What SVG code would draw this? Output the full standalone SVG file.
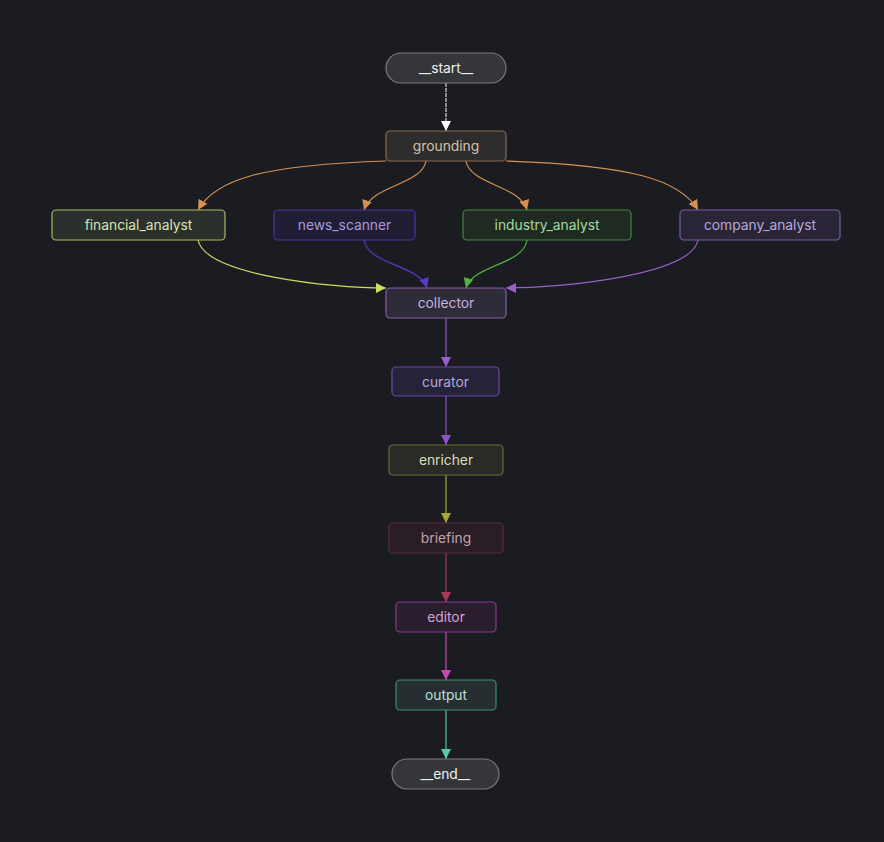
<svg xmlns="http://www.w3.org/2000/svg" width="884" height="842" viewBox="0 0 884 842">
<style>
text{font-family:Inter,"Noto Sans","Liberation Sans",sans-serif;font-size:13.8px;text-anchor:middle;dominant-baseline:central}
.n{stroke-width:1.2}
.e{fill:none;stroke-width:1.2}
</style>
<defs>
<marker id="aw" viewBox="0 0 10 10" refX="10" refY="5" markerWidth="10" markerHeight="10" markerUnits="userSpaceOnUse" orient="auto"><path d="M0,0L10,5L0,10z" fill="#ffffff"/></marker>
<marker id="ao" viewBox="0 0 10 10" refX="10" refY="5" markerWidth="10" markerHeight="10" markerUnits="userSpaceOnUse" orient="auto"><path d="M0,0L10,5L0,10z" fill="#d8904f"/></marker>
<marker id="ay" viewBox="0 0 10 10" refX="10" refY="5" markerWidth="10" markerHeight="10" markerUnits="userSpaceOnUse" orient="auto"><path d="M0,0L10,5L0,10z" fill="#c8e05a"/></marker>
<marker id="ab" viewBox="0 0 10 10" refX="10" refY="5" markerWidth="10" markerHeight="10" markerUnits="userSpaceOnUse" orient="auto"><path d="M0,0L10,5L0,10z" fill="#5a3ac8"/></marker>
<marker id="ag" viewBox="0 0 10 10" refX="10" refY="5" markerWidth="10" markerHeight="10" markerUnits="userSpaceOnUse" orient="auto"><path d="M0,0L10,5L0,10z" fill="#52b040"/></marker>
<marker id="ap" viewBox="0 0 10 10" refX="10" refY="5" markerWidth="10" markerHeight="10" markerUnits="userSpaceOnUse" orient="auto"><path d="M0,0L10,5L0,10z" fill="#9a60c8"/></marker>
<marker id="ap2" viewBox="0 0 10 10" refX="10" refY="5" markerWidth="10" markerHeight="10" markerUnits="userSpaceOnUse" orient="auto"><path d="M0,0L10,5L0,10z" fill="#8a52c8"/></marker>
<marker id="ayl" viewBox="0 0 10 10" refX="10" refY="5" markerWidth="10" markerHeight="10" markerUnits="userSpaceOnUse" orient="auto"><path d="M0,0L10,5L0,10z" fill="#a8a838"/></marker>
<marker id="ar" viewBox="0 0 10 10" refX="10" refY="5" markerWidth="10" markerHeight="10" markerUnits="userSpaceOnUse" orient="auto"><path d="M0,0L10,5L0,10z" fill="#a83a58"/></marker>
<marker id="am" viewBox="0 0 10 10" refX="10" refY="5" markerWidth="10" markerHeight="10" markerUnits="userSpaceOnUse" orient="auto"><path d="M0,0L10,5L0,10z" fill="#c848b8"/></marker>
<marker id="at" viewBox="0 0 10 10" refX="10" refY="5" markerWidth="10" markerHeight="10" markerUnits="userSpaceOnUse" orient="auto"><path d="M0,0L10,5L0,10z" fill="#58c8a8"/></marker>
</defs>
<rect width="884" height="842" fill="#1a1c22"/>
<g id="edges">
<path class="e" stroke="#d8d8d8" stroke-dasharray="4,1" d="M446,83V131" marker-end="url(#aw)"/>
<path class="e" stroke="#d8904f" d="M386,161C260,165 215,180 198,210" marker-end="url(#ao)"/>
<path class="e" stroke="#d8904f" d="M426,161C422,185 372,185 364,210" marker-end="url(#ao)"/>
<path class="e" stroke="#d8904f" d="M466,161C470,185 520,185 527,210" marker-end="url(#ao)"/>
<path class="e" stroke="#d8904f" d="M506,161C632,165 680,180 698,210" marker-end="url(#ao)"/>
<path class="e" stroke="#c8e05a" d="M198,240C205,275 330,288 386,288" marker-end="url(#ay)"/>
<path class="e" stroke="#5a3ac8" d="M364,240C368,265 420,265 427,288" marker-end="url(#ab)"/>
<path class="e" stroke="#52b040" d="M527,240C524,265 472,265 466,288" marker-end="url(#ag)"/>
<path class="e" stroke="#9a60c8" d="M698,240C692,275 562,288 506,288" marker-end="url(#ap)"/>
<path class="e" stroke="#9a56c8" d="M446,318V367" marker-end="url(#ap)"/>
<path class="e" stroke="#8a52c8" d="M446,396V445" marker-end="url(#ap2)"/>
<path class="e" stroke="#a8a838" d="M446,475V523" marker-end="url(#ayl)"/>
<path class="e" stroke="#a83a58" d="M446,553V602" marker-end="url(#ar)"/>
<path class="e" stroke="#c848b8" d="M446,632V680" marker-end="url(#am)"/>
<path class="e" stroke="#58c8a8" d="M446,710V759" marker-end="url(#at)"/>
</g>
<g id="start"><rect class="n" x="386" y="53" width="120" height="30" rx="15" fill="#35363b" stroke="#7a7b80"/><text x="446" y="68" fill="#f0f0f0">__start__</text></g>
<g id="grounding"><rect class="n" x="386" y="131" width="120" height="30" rx="4" fill="#2e2d2d" stroke="#8a6a4c"/><text x="446" y="146" fill="#d8c0a8">grounding</text></g>
<g id="financial_analyst"><rect class="n" x="52" y="210" width="173" height="30" rx="4" fill="#2b302c" stroke="#a8b860"/><text x="138.5" y="225" fill="#d8e4b0">financial_analyst</text></g>
<g id="news_scanner"><rect class="n" x="274" y="210" width="141" height="30" rx="4" fill="#201e34" stroke="#4a36a0"/><text x="344.5" y="225" fill="#a89ad8">news_scanner</text></g>
<g id="industry_analyst"><rect class="n" x="463" y="210" width="168" height="30" rx="4" fill="#1e2a22" stroke="#3c8a3a"/><text x="547" y="225" fill="#a8d8a0">industry_analyst</text></g>
<g id="company_analyst"><rect class="n" x="680" y="210" width="160" height="30" rx="4" fill="#2a2536" stroke="#7a5aa8"/><text x="760" y="225" fill="#b8a8d8">company_analyst</text></g>
<g id="collector"><rect class="n" x="386" y="288" width="120" height="30" rx="4" fill="#2e2c38" stroke="#8a5aaa"/><text x="446" y="303" fill="#c8b0e0">collector</text></g>
<g id="curator"><rect class="n" x="392" y="367" width="107" height="29" rx="4" fill="#25223a" stroke="#6c46a8"/><text x="445.5" y="381.5" fill="#b8a8d8">curator</text></g>
<g id="enricher"><rect class="n" x="389" y="445" width="114" height="30" rx="4" fill="#292b26" stroke="#6c6c34"/><text x="446" y="460" fill="#dcdcb8">enricher</text></g>
<g id="briefing"><rect class="n" x="389" y="523" width="114" height="30" rx="4" fill="#291e26" stroke="#5c2a3a"/><text x="446" y="538" fill="#c8a0b0">briefing</text></g>
<g id="editor"><rect class="n" x="396" y="602" width="100" height="30" rx="4" fill="#2a1e2e" stroke="#8a3a88"/><text x="446" y="617" fill="#d8a0d8">editor</text></g>
<g id="output"><rect class="n" x="396" y="680" width="100" height="30" rx="4" fill="#262e31" stroke="#3e8a7a"/><text x="446" y="695" fill="#b8e0d8">output</text></g>
<g id="end"><rect class="n" x="392" y="759" width="107" height="30" rx="15" fill="#35363b" stroke="#7a7b80"/><text x="445.5" y="774" fill="#f0f0f0">__end__</text></g>
</svg>
